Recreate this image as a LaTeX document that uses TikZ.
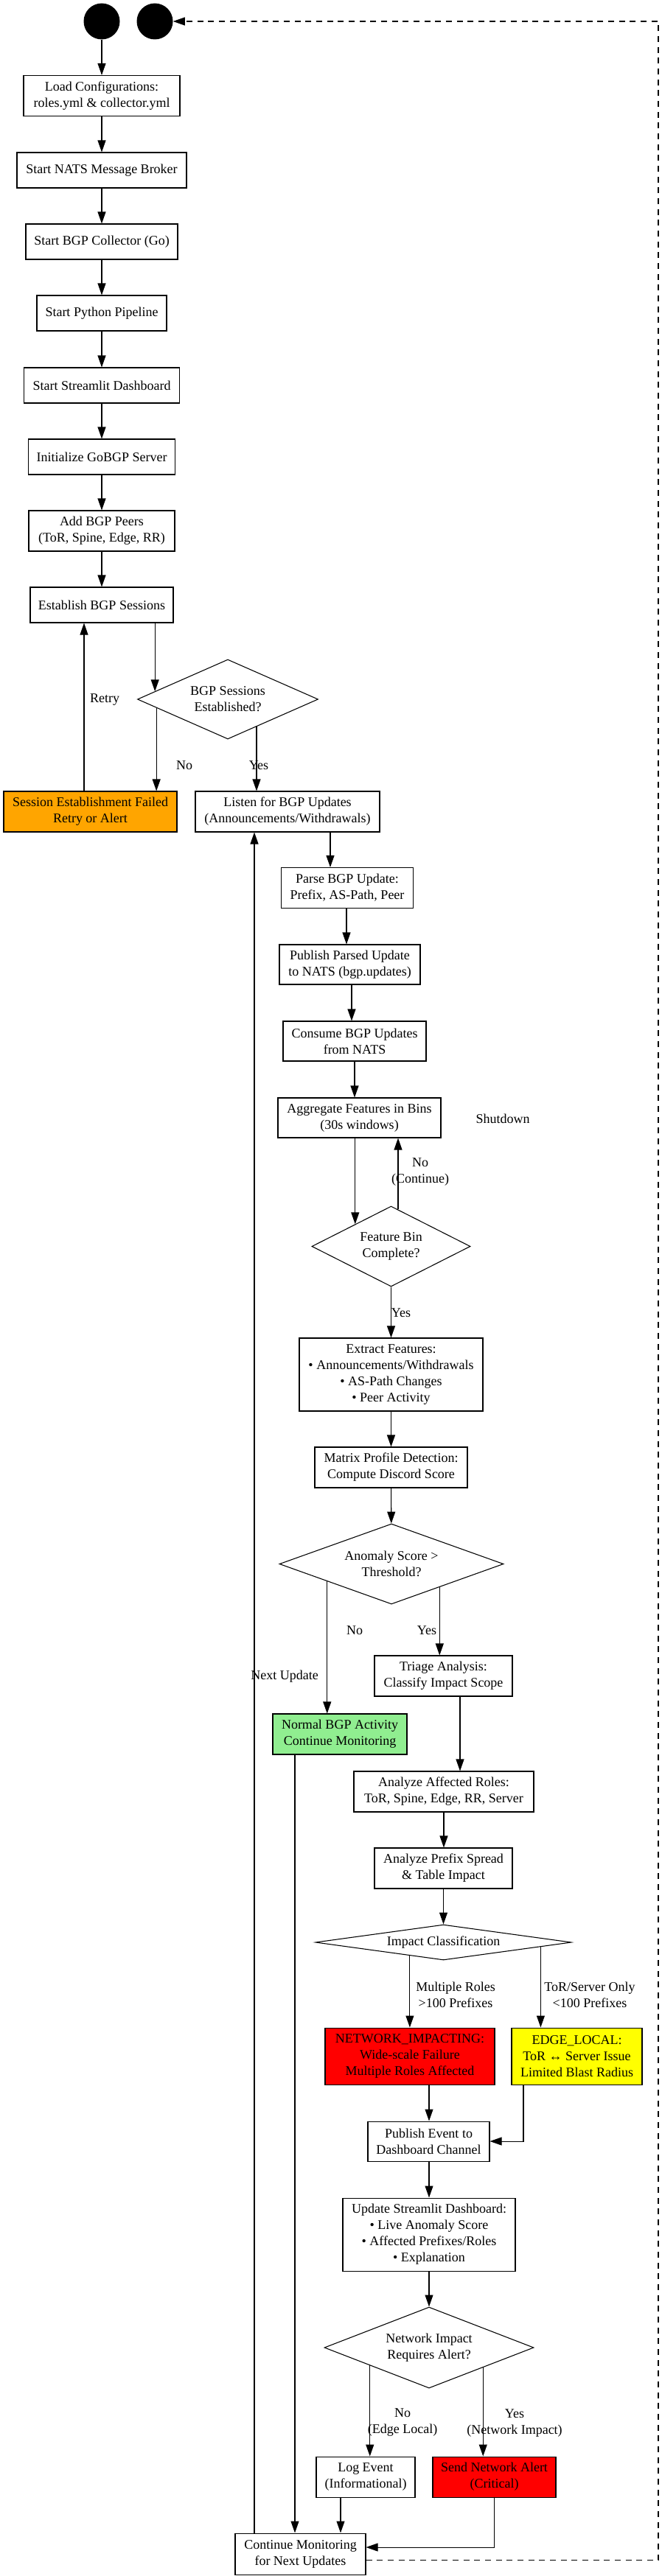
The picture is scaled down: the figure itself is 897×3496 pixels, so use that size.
\documentclass[tikz,border=0pt]{standalone}
\usepackage{fontspec}
\setmainfont{Liberation Serif}
\usetikzlibrary{shapes.geometric,arrows.meta,calc}
\definecolor{gvorange}{HTML}{FFA500}
\definecolor{gvgreen}{HTML}{90EE90}
\definecolor{gvred}{HTML}{FF0000}
\definecolor{gvyellow}{HTML}{FFFF00}
\tikzset{
  base/.style={font=\fontsize{13.5}{16.5}\selectfont, align=center},
  box/.style={base, draw, rectangle, line width=0.8pt, inner sep=1pt},
  dia/.style={base, draw, diamond, line width=0.8pt, inner sep=0pt},
  sz/.style 2 args={minimum width=#1*0.75pt, minimum height=#2*0.75pt},
  lbl/.style={base, inner sep=0pt},
  arr/.style={line width=0.8pt, -{Triangle[length=12pt,width=8.25pt]}},
  dasharr/.style={arr, dash pattern=on 6pt off 5pt},
  dot/.style={circle, fill=black, minimum size=36.75pt, inner sep=0pt},
}
\begin{document}
\begin{tikzpicture}[x=0.75pt,y=-0.75pt]
\useasboundingbox (0,0) rectangle (897,3496);
% nodes
\node[dot] (s1) at (138,29) {};
\node[dot] (end1) at (210,29) {};
\node[box,sz={212}{55}] (load) at (138,130) {Load Configurations:\\roles.yml \& collector.yml};
\node[box,sz={230}{48}] (nats) at (138,231) {Start NATS Message Broker};
\node[box,sz={206}{48}] (coll) at (138,328) {Start BGP Collector (Go)};
\node[box,sz={176}{48}] (py) at (138,425) {Start Python Pipeline};
\node[box,sz={211}{48}] (dash) at (138,523) {Start Streamlit Dashboard};
\node[box,sz={199}{48}] (gobgp) at (138,620) {Initialize GoBGP Server};
\node[box,sz={198}{55}] (peers) at (138,720.5) {Add BGP Peers\\(ToR, Spine, Edge, RR)};
\node[box,sz={194}{48}] (estab) at (138,821) {Establish BGP Sessions};
\node[dia,sz={245}{108},aspect=2.27] (dsess) at (309,949) {BGP Sessions\\Established?};
\node[box,sz={235}{55},fill=gvorange] (fail) at (122.5,1101.5) {Session Establishment Failed\\Retry or Alert};
\node[box,sz={250}{55}] (listen) at (390,1101.5) {Listen for BGP Updates\\(Announcements/Withdrawals)};
\node[box,sz={179}{55}] (parse) at (471,1205) {Parse BGP Update:\\Prefix, AS-Path, Peer};
\node[box,sz={191}{54}] (pub) at (474.5,1309) {Publish Parsed Update\\to NATS (bgp.updates)};
\node[box,sz={194}{54}] (cons) at (481,1413) {Consume BGP Updates\\from NATS};
\node[box,sz={221}{54}] (agg) at (487.5,1517) {Aggregate Features in Bins\\(30s windows)};
\node[dia,sz={215}{109},aspect=1.97] (dbin) at (530.5,1691.5) {Feature Bin\\Complete?};
\node[box,sz={249}{99}] (extract) at (530.5,1865.5) {Extract Features:\\• Announcements/Withdrawals\\• AS-Path Changes\\• Peer Activity};
\node[box,sz={207}{55}] (matrix) at (530.5,1991.5) {Matrix Profile Detection:\\Compute Discord Score};
\node[dia,sz={304}{109},aspect=2.79] (danom) at (531,2122.5) {Anomaly Score >\\Threshold?};
\node[box,sz={182}{55},fill=gvgreen] (normal) at (461,2353.5) {Normal BGP Activity\\Continue Monitoring};
\node[box,sz={187}{55}] (triage) at (601.5,2274.5) {Triage Analysis:\\Classify Impact Scope};
\node[box,sz={244}{55}] (roles) at (602,2431.5) {Analyze Affected Roles:\\ToR, Spine, Edge, RR, Server};
\node[box,sz={187}{55}] (prefix) at (601.5,2535.5) {Analyze Prefix Spread\\\& Table Impact};
\node[dia,sz={347}{48},aspect=7.2] (dimpact) at (601.5,2636) {Impact Classification};
\node[box,sz={230}{77},fill=gvred] (netimp) at (556,2790.5) {NETWORK\_IMPACTING:\\Wide-scale Failure\\Multiple Roles Affected};
\node[box,sz={177}{77},fill=gvyellow] (edge) at (782.5,2790.5) {EDGE\_LOCAL:\\ToR ↔ Server Issue\\Limited Blast Radius};
\node[box,sz={165}{54}] (pubev) at (581.5,2906) {Publish Event to\\Dashboard Channel};
\node[box,sz={234}{99}] (upd) at (582,3032.5) {Update Streamlit Dashboard:\\• Live Anomaly Score\\• Affected Prefixes/Roles\\• Explanation};
\node[dia,sz={284}{110},aspect=2.58] (dnet) at (582,3186) {Network Impact\\Requires Alert?};
\node[box,sz={134}{55}] (log) at (496,3361.5) {Log Event\\(Informational)};
\node[box,sz={167}{55},fill=gvred] (alert) at (670.5,3361.5) {Send Network Alert\\(Critical)};
\node[box,sz={177}{56}] (cont) at (407.5,3466) {Continue Monitoring\\for Next Updates};
% labels
\node[lbl] (lretry) at (142,950) {Retry};
\node[lbl] (lno1) at (250,1039) {No};
\node[lbl] (lyes1) at (351,1039) {Yes};
\node[lbl] (lshut) at (682,1518) {Shutdown};
\node[lbl] (lno2) at (570,1591) {No\\(Continue)};
\node[lbl] (lyes2) at (544,1782) {Yes};
\node[lbl] (lno3) at (481,2213) {No};
\node[lbl] (lyes3) at (579,2213) {Yes};
\node[lbl] (lnext) at (386,2275) {Next Update};
\node[lbl] (lmult) at (618,2707.5) {Multiple Roles\\>100 Prefixes};
\node[lbl] (ltor) at (800,2707.5) {ToR/Server Only\\<100 Prefixes};
\node[lbl] (lno4) at (546,3288) {No\\(Edge Local)};
\node[lbl] (lyes4) at (698,3288) {Yes\\(Network Impact)};
% border points on diamonds
\coordinate (e1) at ($(dsess.west)!0.197!(dsess.north)$);
\coordinate (e2) at ($(dsess.west)!0.213!(dsess.south)$);
\coordinate (e3) at ($(dsess.south)!0.317!(dsess.east)$);
\coordinate (e4) at ($(dbin.west)!0.549!(dbin.north)$);
\coordinate (e5) at ($(dbin.north)!0.088!(dbin.east)$);
\coordinate (e6) at ($(danom.west)!0.428!(danom.south)$);
\coordinate (e7) at ($(danom.south)!0.428!(danom.east)$);
\coordinate (e8) at ($(dimpact.west)!0.738!(dimpact.south)$);
\coordinate (e9) at ($(dimpact.south)!0.758!(dimpact.east)$);
\coordinate (e10) at ($(dnet.west)!0.437!(dnet.south)$);
\coordinate (e11) at ($(dnet.south)!0.514!(dnet.east)$);
\coordinate (rt) at (893,29);
% connectors
\draw[arr] (s1) -- (load);
\draw[arr] (load) -- (nats);
\draw[arr] (nats) -- (coll);
\draw[arr] (coll) -- (py);
\draw[arr] (py) -- (dash);
\draw[arr] (dash) -- (gobgp);
\draw[arr] (gobgp) -- (peers);
\draw[arr] (peers) -- (estab);
\draw[arr] (estab.south -| e1) -- (e1);
\draw[arr] (e2) -- (fail.north -| e2);
\draw[arr] (e3) -- (listen.north -| e3);
\draw[arr] (fail.north -| 114,0) -- (estab.south -| 114,0);
\draw[arr] (listen.south -| 448,0) -- (parse.north -| 448,0);
\draw[arr] (parse.south -| 470,0) -- (pub.north -| 470,0);
\draw[arr] (pub.south -| 477,0) -- (cons.north -| 477,0);
\draw[arr] (cons.south -| 481,0) -- (agg.north -| 481,0);
\draw[arr] (agg.south -| e4) -- (e4);
\draw[arr] (e5) -- (agg.south -| e5);
\draw[arr] (dbin) -- (extract);
\draw[arr] (extract) -- (matrix);
\draw[arr] (matrix) -- (danom);
\draw[arr] (e6) -- (normal.north -| e6);
\draw[arr] (e7) -- (triage.north -| e7);
\draw[arr] (triage.south -| 624,0) -- (roles.north -| 624,0);
\draw[arr] (roles.south -| 602,0) -- (prefix.north -| 602,0);
\draw[arr] (prefix) -- (dimpact);
\draw[arr] (e8) -- (netimp.north -| e8);
\draw[arr] (e9) -- (edge.north -| e9);
\draw[arr] (netimp.south -| 582,0) -- (pubev.north -| 582,0);
\draw[arr] (edge.south -| 710,0) |- (pubev.east);
\draw[arr] (pubev.south -| 582,0) -- (upd.north -| 582,0);
\draw[arr] (upd) -- (dnet);
\draw[arr] (e10) -- (log.north -| e10);
\draw[arr] (e11) -- (alert.north -| e11);
\draw[arr] (log.south -| 462,0) -- (cont.north -| 462,0);
\draw[arr] (normal.south -| 400,0) -- (cont.north -| 400,0);
\draw[arr] (alert.south) |- ($(cont.east)+(0,-9)$);
\draw[arr] (cont.north -| 345,0) -- (listen.south -| 345,0);
\draw[dasharr] ($(cont.east)+(0,8)$) -| (rt) -- (end1);
\end{tikzpicture}
\end{document}
